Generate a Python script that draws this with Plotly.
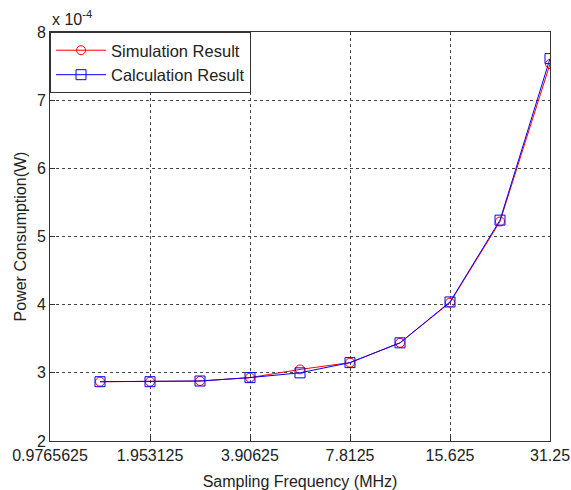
import math
import plotly.graph_objects as go

# Sampling frequencies (MHz), spaced by sqrt(2) on a log2 axis
freq_mhz = [1.380978, 1.953125, 2.762136, 3.90625, 5.524272, 7.8125,
            11.048543, 15.625, 22.097087, 31.25]
# Power consumption in units of 1e-4 W
sim_power = [2.87, 2.87, 2.88, 2.93, 3.05, 3.15, 3.44, 4.03, 5.22, 7.53]
calc_power = [2.87, 2.87, 2.88, 2.93, 3.00, 3.15, 3.44, 4.04, 5.24, 7.61]

tick_vals = [0.9765625, 1.953125, 3.90625, 7.8125, 15.625, 31.25]
tick_text = ["0.9765625", "1.953125", "3.90625", "7.8125", "15.625", "31.25"]

FONT = "Liberation Sans, Arial, sans-serif"
TXT = "#222222"

fig = go.Figure()
fig.add_trace(go.Scatter(
    x=freq_mhz, y=sim_power, mode="lines+markers", name="Simulation Result",
    line=dict(color="#ff0000", width=1),
    marker=dict(symbol="circle-open", size=9, color="#ff0000", line=dict(width=1)),
))
fig.add_trace(go.Scatter(
    x=freq_mhz, y=calc_power, mode="lines+markers", name="Calculation Result",
    line=dict(color="#0000ff", width=1),
    marker=dict(symbol="square-open", size=10, color="#0000ff", line=dict(width=1)),
))

axis_common = dict(
    showline=True, linecolor="#333333", linewidth=1, mirror=True,
    ticks="inside", ticklen=5, tickcolor="#333333",
    showgrid=True, gridcolor="#444444", griddash="3px,3px", gridwidth=1,
    zeroline=False,
    tickfont=dict(family=FONT, size=16, color=TXT),
    title_font=dict(family=FONT, size=16, color=TXT),
)

fig.update_layout(
    width=571, height=490,
    margin=dict(l=50, r=21, t=32, b=49),
    paper_bgcolor="white", plot_bgcolor="white",
    font=dict(family=FONT, size=16, color=TXT),
    xaxis=dict(type="log", range=[math.log10(tick_vals[0]), math.log10(tick_vals[-1])],
               tickvals=tick_vals, ticktext=tick_text, automargin=False,
               title=dict(text="Sampling Frequency (MHz)"),
               **axis_common),
    yaxis=dict(range=[2, 8], dtick=1, automargin=True,
               title=dict(text="Power Consumption(W)", standoff=6),
               **axis_common),
    legend=dict(x=0, y=1, xanchor="left", yanchor="top",
                bgcolor="white", bordercolor="#333333", borderwidth=1,
                font=dict(family=FONT, size=16.5, color=TXT),
                itemwidth=50, tracegroupgap=0),
    showlegend=True,
)

fig.add_annotation(
    xref="paper", yref="paper", x=0, y=1, xanchor="left", yanchor="bottom",
    yshift=2, showarrow=False,
    text="x 10<sup>-4</sup>", font=dict(family=FONT, size=16, color=TXT),
)

fig.write_html("out.html")
